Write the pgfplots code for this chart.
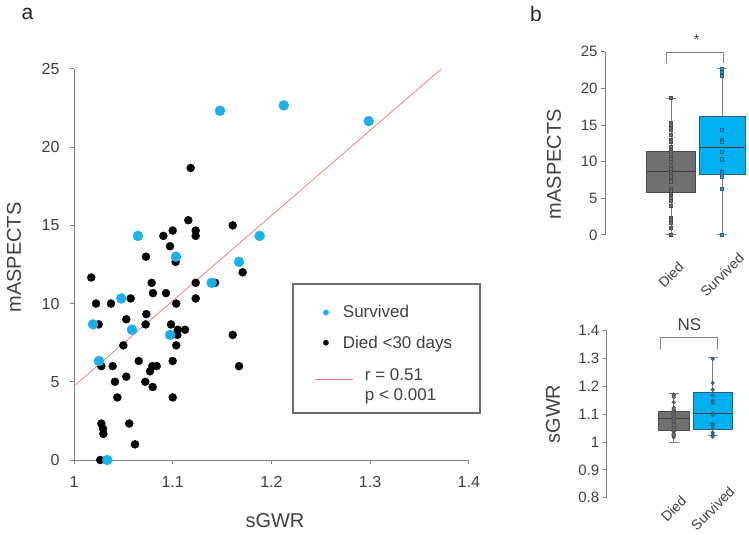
\documentclass[border=0pt]{standalone}
\usepackage{fontspec}
\setmainfont{Liberation Sans}
\usepackage{pgfplots}
\pgfplotsset{compat=1.18}
\usepgfplotslibrary{statistics}
\definecolor{sblue}{HTML}{1AB0EA}
\definecolor{boxblue}{HTML}{00B0F0}
\definecolor{boxgray}{HTML}{707070}
\definecolor{txt}{HTML}{404040}
\definecolor{axgray}{HTML}{808080}
\definecolor{regred}{HTML}{E8847E}
\definecolor{legframe}{HTML}{6B6B6B}
\definecolor{bluedge}{HTML}{2A5F80}
\begin{document}
\begin{tikzpicture}
\useasboundingbox (0,0) rectangle (749pt,535pt);
\pgfplotsset{
  common/.style={
    scale only axis,
    /pgf/number format/assume math mode=true,
    axis x line*=bottom, axis y line*=left,
    axis line style={axgray, line width=1pt},
    tick style={axgray, line width=1pt},
    tick align=outside, major tick length=4pt,
    ticklabel style={text=txt},
    label style={text=txt, font=\fontsize{20}{24}\selectfont},
    boxplot/draw direction=y,
  }
}
% ---------------- panel a ----------------
\begin{axis}[common,
  at={(74pt,75pt)}, anchor=south west,
  width=394.8pt, height=391pt,
  xmin=1, xmax=1.4, ymin=0, ymax=25,
  xtick={1,1.1,1.2,1.3,1.4}, ytick={0,5,10,15,20,25},
  ticklabel style={font=\fontsize{16}{19}\selectfont},
  xticklabel style={yshift=-9pt},
  yticklabel style={xshift=-7pt},
  xlabel={sGWR}, ylabel={mASPECTS},
  xlabel style={at={(rel axis cs:0.509,-0.156)}, anchor=center},
  ylabel style={at={(rel axis cs:-0.152,0.518)}, anchor=center, rotate=0},
  clip=false,
  legend style={at={(rel axis cs:0.552,0.4527)}, anchor=north west,
    draw=legframe, line width=2pt, fill=white,
    inner xsep=22pt, inner ysep=19.5pt, row sep=12.5pt, column sep=10pt,
    font=\fontsize{17}{20}\selectfont, text=txt},
  legend cell align=left,
]
\addplot[only marks, mark=*, mark size=4pt, black, forget plot] coordinates {
(1.1158,15.33) (1.1608,15.00) (1.0905,14.33) (1.1000,14.67) (1.1233,14.67)
(1.1233,14.33) (1.0973,13.67) (1.0729,13.00) (1.1030,12.67) (1.1709,12.00)
(1.0175,11.67) (1.0787,11.33) (1.0800,10.67) (1.0932,10.67) (1.1233,11.33)
(1.1429,11.33) (1.0574,10.33) (1.1233,10.33) (1.0223,10.00) (1.0375,10.00)
(1.1036,10.00) (1.0733,9.33) (1.0530,9.00) (1.0250,8.67) (1.0726,8.67)
(1.0983,8.67) (1.1051,8.33) (1.1125,8.33) (1.1047,8.00) (1.1608,8.00)
(1.1036,7.33) (1.0500,7.33) (1.0656,6.33) (1.1000,6.33) (1.0277,6.00)
(1.0392,6.00) (1.0793,6.00) (1.0838,6.00) (1.0770,5.67) (1.1672,6.00)
(1.0530,5.33) (1.0415,5.00) (1.0722,5.00) (1.0797,4.67) (1.0439,4.00)
(1.1000,4.00) (1.0277,2.33) (1.0294,2.00) (1.0297,1.67) (1.0560,2.33)
(1.0618,1.00) (1.0266,0.00) (1.1182,18.67)
};
\addplot[only marks, mark=*, mark size=5pt, sblue, forget plot] coordinates {
(1.0648,14.33) (1.1033,13.00) (1.1672,12.67) (1.1395,11.33) (1.0479,10.33)
(1.0193,8.67) (1.0588,8.33) (1.0973,8.00) (1.0253,6.33) (1.0337,0.00)
(1.1881,14.33) (1.1479,22.33) (1.2125,22.67) (1.2986,21.67)
};
\addplot[regred, line width=0.8pt, forget plot] coordinates {(1,4.73) (1.372,25)};
\addlegendimage{legend image code/.code={\path[draw=none] (0pt,0pt) -- (16pt,0pt); \fill[sblue, draw=none] (11pt,0pt) circle (2.9pt);}}
\addlegendentry{\makebox[113pt][l]{Survived}}
\addlegendimage{legend image code/.code={\path[draw=none] (0pt,0pt) -- (16pt,0pt); \fill[black, draw=none] (11pt,0pt) circle (2.9pt);}}
\addlegendentry{\makebox[113pt][l]{Died <30 days}}
\addlegendimage{legend image code/.code={\path[draw=none] (0pt,0pt) -- (16pt,0pt); \draw[regred, line width=0.8pt, overlay] (0pt,0pt) -- (38pt,0pt);}}
\addlegendentry{\makebox[113pt][l]{\hspace*{22pt}\begin{tabular}{@{}l@{}}r = 0.51\\p < 0.001\end{tabular}}}
\end{axis}
% ---------------- panel b top ----------------
\begin{axis}[common,
  at={(605pt,300pt)}, anchor=south west,
  width=142.5pt, height=183.3pt,
  xmin=-0.294, xmax=2.5, ymin=0, ymax=25,
  ytick={0,5,10,15,20,25},
  xtick={1,2}, xticklabels={Died,Survived},
  x axis line style={draw=none}, x tick style={draw=none},
  ticklabel style={font=\fontsize{15}{18}\selectfont},
  xticklabel style={yshift=-36pt, rotate=45, anchor=center, font=\fontsize{14}{17}\selectfont},
  ylabel={mASPECTS},
  ylabel style={at={(rel axis cs:-0.358,0.387)}, anchor=center},
  clip=false,
  boxplot/every whisker/.style={draw=axgray, line width=1pt},
  boxplot/every median/.style={draw=black!75, line width=1pt},
]
\addplot[boxplot prepared={draw position=1, median=8.7, lower quartile=5.8,
  upper quartile=11.45, lower whisker=0, upper whisker=18.67,
  box extend=0.96, whisker extend=0.2},
  draw=black!70, fill=boxgray, line width=0.8pt] coordinates {};
\addplot[boxplot prepared={draw position=2, median=12.0, lower quartile=8.3,
  upper quartile=16.2, lower whisker=0, upper whisker=22.67,
  box extend=0.9, whisker extend=0.2},
  draw=bluedge, fill=boxblue, line width=0.8pt] coordinates {};
\addplot[only marks, mark=square*, mark size=1.6pt, mark options={draw=black!70, fill=boxgray, line width=0.5pt}] coordinates {
(1,15.33) (1,15.00) (1,14.33) (1,14.67) (1,13.67) (1,13.00) (1,12.67) (1,12.00)
(1,11.67) (1,11.33) (1,10.67) (1,10.33) (1,10.00) (1,9.33) (1,9.00) (1,8.67)
(1,8.33) (1,8.00) (1,7.33) (1,6.33) (1,6.00) (1,5.67) (1,5.33) (1,5.00) (1,4.67)
(1,4.00) (1,2.33) (1,2.00) (1,1.67) (1,1.00) (1,0.00) (1,18.67)
};
\addplot[only marks, mark=square*, mark size=1.6pt, mark options={draw=bluedge, fill=boxblue, line width=0.5pt}] coordinates {
(2,14.33) (2,13.00) (2,12.67) (2,11.33) (2,10.33) (2,8.67) (2,8.33) (2,8.00)
(2,6.33) (2,0.00) (2,22.33) (2,22.67) (2,21.67)
};
\draw[axgray, line width=1pt] (axis cs:0.916,23.4) -- (axis cs:0.916,24.9) -- (axis cs:2.025,24.9) -- (axis cs:2.025,23.4);
\node[text=txt, font=\fontsize{14}{16}\selectfont] at (axis cs:1.5,26.6) {*};
\end{axis}
% ---------------- panel b bottom ----------------
\begin{axis}[common,
  at={(606.7pt,37.3pt)}, anchor=south west,
  width=125.5pt, height=167pt,
  xmin=-0.718, xmax=2.5, ymin=0.8, ymax=1.4,
  ytick={0.8,0.9,1,1.1,1.2,1.3,1.4},
  xtick={1,2}, xticklabels={Died,Survived},
  x axis line style={draw=none}, x tick style={draw=none},
  ticklabel style={font=\fontsize{15}{18}\selectfont},
  xticklabel style={yshift=-7pt, xshift=0pt, rotate=45, anchor=center, font=\fontsize{14}{17}\selectfont},
  ylabel={sGWR},
  ylabel style={at={(rel axis cs:-0.428,0.501)}, anchor=center},
  clip=false,
  boxplot/every whisker/.style={draw=axgray, line width=1pt},
  boxplot/every median/.style={draw=black!75, line width=1pt},
]
\addplot[boxplot prepared={draw position=1, median=1.083, lower quartile=1.0433,
  upper quartile=1.109, lower whisker=0.998, upper whisker=1.1726,
  box extend=0.79, whisker extend=0.26},
  draw=black!70, fill=boxgray, line width=0.8pt] coordinates {};
\addplot[boxplot prepared={draw position=2, median=1.102, lower quartile=1.047,
  upper quartile=1.177, lower whisker=1.023, upper whisker=1.3045,
  box extend=1.0, whisker extend=0.26},
  draw=bluedge, fill=boxblue, line width=0.8pt] coordinates {};
\addplot[only marks, mark=*, mark size=1.8pt, mark options={draw=black!70, fill=gray, line width=0.5pt}] coordinates {
(1,1.1158) (1,1.1608) (1,1.0905) (1,1.1000) (1,1.1233) (1,1.0973) (1,1.0729)
(1,1.1030) (1,1.1709) (1,1.0175) (1,1.0787) (1,1.0800) (1,1.0932) (1,1.1429)
(1,1.0574) (1,1.0223) (1,1.0375) (1,1.0733) (1,1.0530) (1,1.0250) (1,1.0983)
(1,1.1051) (1,1.1125) (1,1.0500) (1,1.0656) (1,1.0277) (1,1.0392) (1,1.0838)
(1,1.1672) (1,1.0415) (1,1.0439) (1,1.0294) (1,1.0560) (1,1.0618) (1,1.0266)
(1,1.1182)
};
\addplot[only marks, mark=*, mark size=1.8pt, mark options={draw=bluedge, fill=bluedge!80!boxblue, line width=0.5pt}] coordinates {
(2,1.0648) (2,1.1033) (2,1.1672) (2,1.1395) (2,1.0479) (2,1.0193) (2,1.0588)
(2,1.0973) (2,1.0253) (2,1.0337) (2,1.1881) (2,1.1479) (2,1.2125) (2,1.2986)
};
\draw[axgray, line width=1pt] (axis cs:0.649,1.334) -- (axis cs:0.649,1.375) -- (axis cs:2.128,1.375) -- (axis cs:2.128,1.334);
\node[text=txt, font=\fontsize{17}{20}\selectfont] at (axis cs:1.4,1.423) {NS};
\end{axis}
\node[text=black!85, font=\fontsize{21}{25}\selectfont] at (27.5pt,521pt) {a};
\node[text=black!85, font=\fontsize{21}{25}\selectfont] at (536pt,521pt) {b};
\end{tikzpicture}
\end{document}
